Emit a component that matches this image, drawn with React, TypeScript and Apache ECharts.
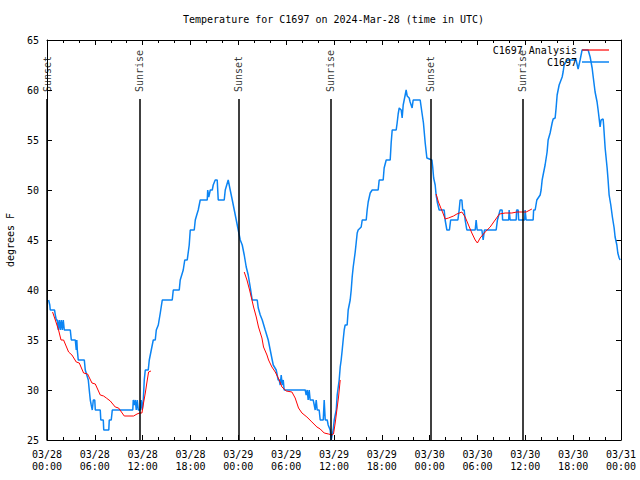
import React, { useEffect, useRef } from "react";
import * as echarts from "echarts";

// Hours since 2024-03-28 00:00 UTC, temperature in °F
const observations: [number, number][] = [
  [0.2, 39], [0.35, 38.5], [0.41, 38], [0.95, 38], [1.04, 37.5], [1.17, 37], [1.29, 37], [1.42, 36],
  [1.54, 37], [1.67, 36], [1.79, 37], [1.92, 36], [2.04, 37], [2.17, 36], [2.42, 36], [2.92, 36],
  [3.05, 35], [3.3, 35], [3.55, 35], [3.67, 34], [3.74, 35], [3.8, 34], [3.92, 33], [4.68, 33],
  [4.8, 32], [4.99, 31.5], [5.18, 31], [5.3, 30], [5.43, 29], [5.55, 28.5], [5.68, 28], [5.81, 29],
  [5.99, 29], [6.06, 28], [6.68, 28], [6.75, 27], [7.06, 27], [7.12, 26], [7.75, 26], [7.81, 27],
  [8.06, 27], [8.19, 28], [10.76, 28], [10.82, 29], [10.95, 28.5], [11.07, 29], [11.2, 28], [11.32, 29],
  [11.45, 28], [11.7, 28], [11.82, 29], [11.95, 28], [12.08, 29], [12.2, 31], [12.33, 32], [12.7, 32],
  [12.83, 33], [13.08, 34], [13.33, 35], [13.58, 35], [13.71, 36], [13.96, 36.5], [14.21, 37.7], [14.46, 39],
  [15.71, 39], [15.84, 40], [16.59, 40], [16.71, 41], [16.9, 41.5], [17.09, 42], [17.28, 43], [17.59, 43],
  [17.84, 44.5], [17.97, 46], [18.47, 46], [18.6, 47], [18.78, 47.5], [18.97, 48], [19.22, 49], [20.1, 49],
  [20.16, 50], [20.29, 49.3], [20.48, 50], [20.73, 50], [20.85, 50.5], [21.1, 51], [21.35, 51], [21.48, 49],
  [22.23, 49], [22.36, 50], [22.73, 51], [22.98, 50], [23.24, 49], [23.49, 48], [23.74, 47], [23.99, 46],
  [24.24, 45], [24.49, 44.5], [24.74, 43.5], [24.99, 42.3], [25.24, 41.5], [25.49, 40.3], [25.74, 39], [26.37, 39],
  [26.5, 38.2], [26.75, 37.5], [27.0, 37], [27.37, 36], [27.75, 35], [28.0, 34], [28.25, 33], [28.38, 32.5],
  [28.75, 32], [29.0, 31], [29.13, 31], [29.25, 30.5], [29.38, 31.5], [29.5, 30.5], [29.63, 31], [29.75, 30],
  [32.39, 30], [32.51, 29.5], [32.64, 30], [32.76, 29], [32.89, 30], [33.01, 29], [33.39, 29], [33.52, 28.5],
  [33.64, 28], [33.77, 29], [33.89, 28], [34.14, 28], [34.27, 27], [34.65, 27], [34.77, 29], [34.9, 27],
  [35.15, 27], [35.27, 26.5], [35.52, 26], [35.65, 25], [35.77, 25.5], [35.9, 26], [36.03, 27], [36.28, 28],
  [36.4, 29.5], [36.65, 31], [36.78, 32.3], [36.9, 33], [37.03, 34], [37.15, 35], [37.28, 36], [37.4, 36.5],
  [37.65, 36.5], [37.78, 38], [38.03, 39], [38.16, 40], [38.28, 41.3], [38.41, 42.3], [38.66, 43.8], [38.78, 44.7],
  [38.91, 45.7], [39.03, 46], [39.41, 46.3], [39.54, 47], [40.04, 47], [40.16, 48], [40.29, 48.8], [40.54, 49.7],
  [40.79, 50], [41.54, 50], [41.67, 51], [42.17, 51], [42.29, 52.2], [42.55, 53], [43.05, 53], [43.17, 54.7],
  [43.3, 56], [43.8, 56], [43.92, 56.7], [44.05, 57.6], [44.18, 58.2], [44.43, 58], [44.55, 57.2], [44.68, 58.5],
  [44.93, 59.5], [45.05, 60], [45.18, 59.4], [45.43, 59.2], [45.55, 58.8], [45.8, 58.2], [45.93, 59], [46.81, 59],
  [47.02, 57.8], [47.22, 56.7], [47.44, 54.7], [47.65, 53.2], [48.28, 53], [48.38, 52.3], [48.5, 51.2], [48.69, 50.5],
  [48.81, 49.5], [48.98, 48.7], [49.19, 48], [49.82, 48], [49.94, 47], [50.16, 46], [50.48, 46], [50.63, 47],
  [51.54, 47], [51.7, 48], [51.82, 49], [52.04, 49], [52.14, 48], [52.33, 48], [52.45, 47], [52.66, 46],
  [53.71, 46], [53.83, 47], [53.96, 46], [54.55, 46], [54.71, 45], [54.87, 46], [56.34, 46], [56.5, 47],
  [56.84, 48], [57.09, 48], [57.15, 47], [57.91, 47], [57.97, 48], [58.09, 47], [58.85, 47], [58.91, 48],
  [59.1, 48], [59.16, 47], [59.91, 47], [59.97, 48], [60.1, 47], [60.98, 47], [61.04, 48], [61.23, 48],
  [61.44, 49], [61.86, 49.5], [61.98, 50], [62.11, 51], [62.23, 51.5], [62.48, 52.5], [62.73, 53.8], [62.86, 55],
  [63.11, 55.7], [63.36, 56.7], [63.49, 57.1], [63.74, 57.2], [63.86, 58.2], [63.99, 59.5], [64.24, 60.5], [64.62, 61.3],
  [64.74, 61.8], [64.87, 62.5], [65.24, 63], [66.37, 63], [66.62, 62.1], [66.87, 63], [67.12, 64], [67.88, 64],
  [68.13, 63.3], [68.38, 62.2], [68.5, 61.4], [68.75, 59.8], [69.0, 58.8], [69.13, 58], [69.25, 57.2], [69.38, 56.3],
  [69.5, 57], [69.76, 57.1], [69.82, 56.5], [70.01, 54.2], [70.26, 52.2], [70.38, 51], [70.51, 49.5], [70.72, 48.5],
  [70.92, 47.3], [71.14, 46.2], [71.26, 45.3], [71.48, 44.5], [71.6, 43.7], [71.77, 43.2], [71.89, 43],
];

const analysisNight1: [number, number][] = [
  [0.7, 37.8], [1.04, 37], [1.45, 36], [1.76, 35], [2.08, 35], [2.71, 33.8], [3.13, 33.5], [3.67, 32.8],
  [4.05, 32.7], [4.59, 31.7], [5.09, 31.6], [5.64, 30.7], [6.06, 30.6], [6.68, 29.5], [7.1, 29.4], [7.44, 29.2],
  [7.94, 28.9], [8.56, 28.3], [8.98, 28.2], [9.69, 27.4], [10.86, 27.4], [11.29, 27.6], [11.61, 27.7], [11.91, 27.7],
  [12.11, 28.7], [12.33, 29.7], [12.54, 30.8], [12.74, 31.8], [13.04, 31.9],
];
const analysisNight2: [number, number][] = [
  [24.74, 41.8], [25.08, 41], [25.41, 40], [25.71, 39], [25.91, 38.3], [26.25, 37.3], [26.53, 36.3], [26.96, 35.2],
  [27.16, 34.3], [27.59, 33.5], [27.79, 33], [28.21, 32.3], [28.63, 31.8], [29.13, 31], [29.47, 30.3], [30.01, 29.9],
  [30.72, 29.8], [31.13, 29.2], [31.55, 28.2], [31.98, 27.7], [32.6, 27.3], [33.23, 26.8], [33.86, 26.3], [34.27, 26.1],
  [34.77, 25.7], [35.31, 25.6], [35.74, 25.5], [35.94, 25.6], [36.15, 26.7], [36.36, 28], [36.57, 29.3], [36.78, 31],
];
const analysisNight3: [number, number][] = [
  [48.81, 49.6], [49.1, 48.8], [49.4, 48.2], [49.66, 47.7], [49.94, 47.1], [50.36, 47.2], [50.99, 47.4], [51.41, 47.6],
  [52.04, 47.8], [52.45, 47.3], [52.87, 46.5], [53.29, 45.7], [53.71, 45], [53.99, 44.7], [54.33, 45.2], [54.96, 45.8],
  [55.59, 46.3], [56.21, 47], [56.75, 47.6], [57.47, 47.7], [58.31, 47.7], [58.93, 47.8], [59.56, 47.8], [60.1, 47.8],
  [60.82, 48.1],
];

const sunEventNames = ["Sunset", "Sunrise", "Sunset", "Sunrise", "Sunset", "Sunrise"];
const sunEventHours = [0, 11.61, 24.03, 35.56, 48.1, 59.64];

const xTickLabels = [
  "03/28\n00:00", "03/28\n06:00", "03/28\n12:00", "03/28\n18:00",
  "03/29\n00:00", "03/29\n06:00", "03/29\n12:00", "03/29\n18:00",
  "03/30\n00:00", "03/30\n06:00", "03/30\n12:00", "03/30\n18:00",
  "03/31\n00:00",
];

const FONT = "DejaVu Sans Mono";
const BLUE = "#0b84f3";
const RED = "#ff0000";

export default function App() {
  const ref = useRef<HTMLDivElement>(null);
  useEffect(() => {
    if (!ref.current) return;
    const chart = echarts.init(ref.current, null, { renderer: "svg" });
    const text = { fontFamily: FONT, fontSize: 10, color: "#000" };
    const analysis: any[] = [
      ...analysisNight1, [13.5, "-"],
      ...analysisNight2, [37.5, "-"],
      ...analysisNight3,
    ];
    const xCommon = {
      type: "value", min: 0, max: 72, interval: 6,
      axisLine: { show: true, onZero: false, lineStyle: { color: "#000", width: 1 } },
      axisTick: { show: true, inside: true, length: 5, lineStyle: { color: "#000" } },
      minorTick: { show: true, splitNumber: 3, length: 3, lineStyle: { color: "#000" } },
      splitLine: { show: false },
    };
    const yCommon = {
      type: "value", min: 25, max: 65, interval: 5,
      axisLine: { show: true, onZero: false, lineStyle: { color: "#000", width: 1 } },
      axisTick: { show: true, inside: true, length: 5, lineStyle: { color: "#000" } },
      splitLine: { show: false },
    };
    chart.setOption({
      animation: false,
      backgroundColor: "#fff",
      title: {
        text: "Temperature for C1697 on 2024-Mar-28 (time in UTC)",
        left: 183, top: 14, padding: 0,
        textStyle: { ...text, fontWeight: "normal" },
      },
      grid: { left: 47, right: 19, top: 40, bottom: 40, containLabel: false, outerBoundsMode: "none" },
      legend: [
        {
          data: [{ name: "C1697 Analysis", icon: "rect" }], right: 31, top: 45, padding: 0, align: "right",
          itemWidth: 27, itemHeight: 1.2, textStyle: text,
        },
        {
          data: [{ name: "C1697", icon: "rect" }], right: 31, top: 57, padding: 0, align: "right",
          itemWidth: 27, itemHeight: 1.5, textStyle: text,
        },
      ],
      xAxis: [
        {
          ...xCommon, position: "bottom",
          axisLabel: {
            ...text, lineHeight: 12, margin: 8,
            formatter: (v: number) => xTickLabels[Math.round(v / 6)] ?? "",
          },
        },
        { ...xCommon, position: "top", axisLabel: { show: false } },
      ],
      yAxis: [
        {
          ...yCommon, position: "left",
          name: "degrees F", nameLocation: "middle", nameGap: 32, nameRotate: 90,
          nameTextStyle: text,
          axisLabel: { ...text, margin: 8 },
        },
        { ...yCommon, position: "right", axisLabel: { show: false } },
      ],
      series: [
        {
          type: "scatter", name: "sun", z: 1, symbolSize: 0, silent: true,
          data: sunEventHours.map((h, i) => ({ value: [h, 59.8], name: sunEventNames[i] })),
          label: {
            show: true, formatter: "{b}", position: [0, 0], rotate: 90,
            align: "left", verticalAlign: "middle", ...text,
          },
          markLine: {
            silent: true, symbol: "none", label: { show: false },
            lineStyle: { color: "#000", width: 1.5, type: "solid" },
            data: sunEventHours.map((h) => [{ coord: [h, 59.1] }, { coord: [h, 25] }]),
          },
        },
        {
          type: "line", name: "C1697", data: observations, symbol: "none", z: 3,
          lineStyle: { color: BLUE, width: 1.5 }, itemStyle: { color: BLUE },
        },
        {
          type: "line", name: "C1697 Analysis", data: analysis, symbol: "none", z: 4,
          connectNulls: false,
          lineStyle: { color: RED, width: 1 }, itemStyle: { color: RED },
        },
      ],
    });
    return () => chart.dispose();
  }, []);
  return (
    <div
      ref={ref}
      style={{ position: "absolute", left: 0, top: 0, width: 640, height: 480, background: "#fff" }}
    />
  );
}
